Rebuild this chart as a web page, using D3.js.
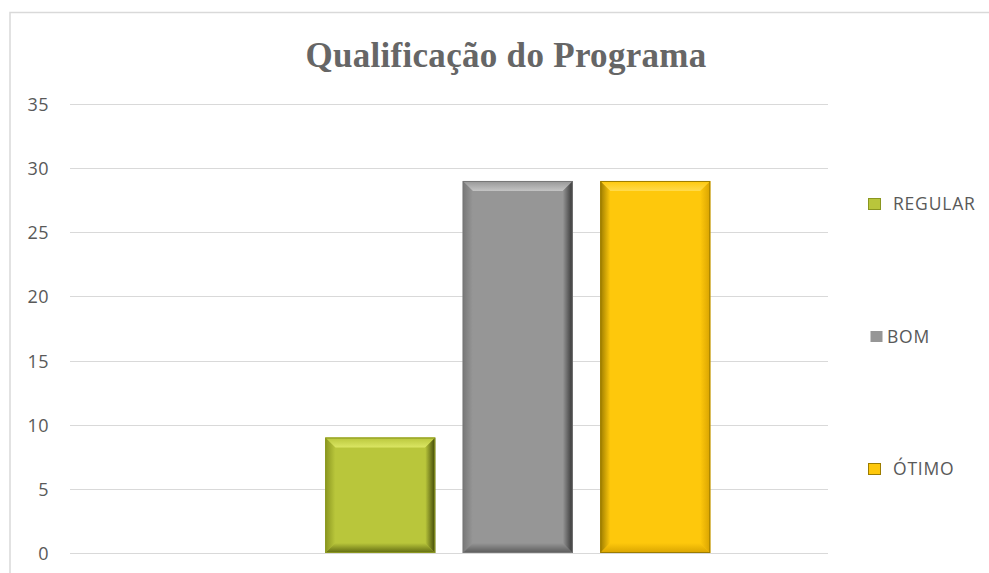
<!DOCTYPE html>
<html>
<head>
<meta charset="utf-8">
<script src="https://cdn.jsdelivr.net/npm/d3@7"></script>
<style>
  body { margin: 0; background: #fff; }
  svg { display: block; }
</style>
</head>
<body>
<div id="chart"></div>
<script>
// data
const series = ["REGULAR", "BOM", "ÓTIMO"];
const values = [9, 29, 29];
const yTicks = [0, 5, 10, 15, 20, 25, 30, 35];
const title = "Qualificação do Programa";

const colors = {
    "REGULAR": {id: "reg", fill: "#b9c63b", light: "#dbe664", dark: "#5f6910", side: "#3f4608", edge: "#8a9620"},
    "BOM":     {id: "bom", fill: "#969696", light: "#c4c4c4", dark: "#5a5a5a", side: "#333333", edge: "#777777"},
    "ÓTIMO":   {id: "oti", fill: "#fec80c", light: "#ffdb4c", dark: "#d9a400", side: "#d9a300", edge: "#9c7c00"}
};

var W = 989, H = 573;
var plot = {left: 70, right: 828, top: 104, bottom: 553};

var svg = d3.select("#chart")
    .append("svg")
    .attr("width", W)
    .attr("height", H);

var defs = svg.append("defs");

// gradients for the bevel sides
function grad(id, x1, y1, x2, y2, c1, c2) {
    var g = defs.append("linearGradient")
        .attr("id", id)
        .attr("x1", x1).attr("y1", y1)
        .attr("x2", x2).attr("y2", y2);
    g.append("stop").attr("offset", "0%").attr("stop-color", c1);
    g.append("stop").attr("offset", "100%").attr("stop-color", c2);
}
series.forEach(s => {
    const c = colors[s];
    grad(c.id + "-top", 0, 0, 0, 1, c.fill, c.light);
    grad(c.id + "-bot", 0, 0, 0, 1, c.fill, c.dark);
    grad(c.id + "-rgt", 0, 0, 1, 0, c.fill, c.side);
    grad(c.id + "-lft", 0, 0, 1, 0, c.edge, c.fill);
});

// chart frame (runs off the right and bottom edges)
svg.append("path")
    .attr("d", `M10,${H + 5} L10,12.5 L${W + 5},12.5`)
    .attr("fill", "none")
    .attr("stroke", "#d9d9d9")
    .attr("stroke-width", 1.5);

// the chart has an empty first slot, so the three bars sit right of centre
const slots = [""].concat(series);

const x = d3.scaleBand()
    .domain(slots)
    .range([plot.left, plot.right])
    .paddingInner(0.2)
    .paddingOuter(0.856);

const y = d3.scaleLinear()
    .domain([0, 35])
    .range([plot.bottom, plot.top]);

// gridlines
svg.append("g")
    .selectAll("line")
    .data(yTicks)
    .enter().append("line")
    .attr("x1", plot.left)
    .attr("x2", plot.right)
    .attr("y1", d => Math.round(y(d)) + 0.5)
    .attr("y2", d => Math.round(y(d)) + 0.5)
    .attr("stroke", "#d9d9d9")
    .attr("stroke-width", 1);

// y axis labels
const yAxis = svg.append("g")
    .attr("transform", `translate(${plot.left - 21},0)`)
    .call(d3.axisLeft(y).tickValues(yTicks).tickSize(0).tickPadding(0));
yAxis.select(".domain").remove();
yAxis.selectAll("text")
    .attr("fill", "#595959")
    .attr("dy", "0.36em")
    .style("font-family", "'Open Sans', 'DejaVu Sans', sans-serif")
    .style("font-size", "18px")
    .style("letter-spacing", "0.4px");

// bars with bevel
const bars = svg.append("g")
    .selectAll("g")
    .data(series.map((s, i) => ({name: s, value: values[i]})))
    .enter().append("g");

const bev = 10;

bars.each(function(d) {
    const g = d3.select(this);
    const c = colors[d.name];
    const x0 = x(d.name), x1 = x0 + x.bandwidth();
    const y0 = y(d.value), y1 = y(0);

    g.append("rect")
        .attr("x", x0).attr("y", y0)
        .attr("width", x.bandwidth()).attr("height", y1 - y0)
        .attr("fill", c.fill);

    // top bevel
    g.append("polygon")
        .attr("points", [[x0, y0], [x1, y0], [x1 - bev, y0 + bev], [x0 + bev, y0 + bev]].join(" "))
        .attr("fill", `url(#${c.id}-top)`);
    // left bevel
    g.append("polygon")
        .attr("points", [[x0, y0], [x0 + bev, y0 + bev], [x0 + bev, y1 - bev], [x0, y1]].join(" "))
        .attr("fill", `url(#${c.id}-lft)`);
    // bottom bevel
    g.append("polygon")
        .attr("points", [[x0, y1], [x0 + bev, y1 - bev], [x1 - bev, y1 - bev], [x1, y1]].join(" "))
        .attr("fill", `url(#${c.id}-bot)`);
    // right bevel
    g.append("polygon")
        .attr("points", [[x1, y0], [x1 - bev, y0 + bev], [x1 - bev, y1 - bev], [x1, y1]].join(" "))
        .attr("fill", `url(#${c.id}-rgt)`);

    g.append("rect")
        .attr("x", x0 + 0.5).attr("y", y0 + 0.5)
        .attr("width", x.bandwidth() - 1).attr("height", y1 - y0 - 1)
        .attr("fill", "none")
        .attr("stroke", c.edge)
        .attr("stroke-width", 1);
});

// title
svg.append("text")
    .attr("x", 506)
    .attr("y", 67)
    .attr("text-anchor", "middle")
    .attr("fill", "#666666")
    .style("font-family", "'Liberation Serif', 'Times New Roman', serif")
    .style("font-weight", "bold")
    .style("font-size", "35px")
    .style("letter-spacing", "0.3px")
    .text(title);

// legend
const legendY = d3.scalePoint()
    .domain(series)
    .range([204, 469]);

const legend = svg.append("g")
    .selectAll("g")
    .data(series)
    .enter().append("g")
    .attr("transform", d => `translate(868,${legendY(d)})`);

legend.append("rect")
    .attr("x", d => d === "BOM" ? 2.5 : 0.5)
    .attr("y", -5.5)
    .attr("width", 12)
    .attr("height", 11)
    .attr("fill", d => colors[d].fill)
    .attr("stroke", d => d === "BOM" ? "none" : colors[d].edge)
    .attr("stroke-width", 1);

legend.append("text")
    .attr("x", d => d === "BOM" ? 19 : 25)
    .attr("y", 0)
    .attr("dy", "0.36em")
    .attr("fill", "#595959")
    .style("font-family", "'Open Sans', 'DejaVu Sans', sans-serif")
    .style("font-size", "17.5px")
    .style("letter-spacing", "0.8px")
    .text(d => d);
</script>
</body>
</html>
